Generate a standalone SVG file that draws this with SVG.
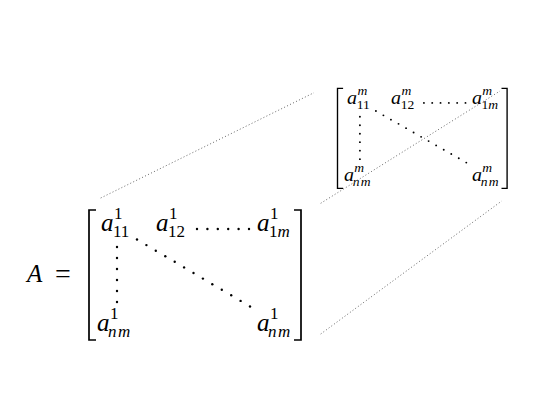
<svg xmlns="http://www.w3.org/2000/svg" width="540" height="413" viewBox="0 0 540 413">
<style>
.v{font-family:"Liberation Serif","DejaVu Serif",serif;font-style:italic;font-size:25px;fill:#000}
.u{font-family:"Liberation Serif","DejaVu Serif",serif;font-size:28px;fill:#000}
.s{font-family:"Liberation Serif","DejaVu Serif",serif;font-size:17px;fill:#000}
.si{font-family:"Liberation Serif","DejaVu Serif",serif;font-size:17px;font-style:italic;fill:#000;letter-spacing:1.5px}
.br{fill:none;stroke:#000;stroke-width:1.7}
.dot{fill:#000}
.conn{fill:none;stroke:#666;stroke-width:1;stroke-dasharray:1 2.3}
</style>
<defs>
<circle id="d" r="1.2" class="dot"/>
<g id="dots">
<use href="#d" x="197" y="229"/><use href="#d" x="207.4" y="229"/><use href="#d" x="217.8" y="229"/><use href="#d" x="228.2" y="229"/><use href="#d" x="238.6" y="229"/><use href="#d" x="249" y="229"/>
<use href="#d" x="117" y="247"/><use href="#d" x="117" y="258"/><use href="#d" x="117" y="269"/><use href="#d" x="117" y="280"/><use href="#d" x="117" y="291"/><use href="#d" x="117" y="302"/>
<use href="#d" x="137" y="239.5"/><use href="#d" x="146.4" y="245.1"/><use href="#d" x="155.8" y="250.7"/><use href="#d" x="165.3" y="256.2"/><use href="#d" x="174.7" y="261.8"/><use href="#d" x="184.1" y="267.4"/><use href="#d" x="193.5" y="273"/><use href="#d" x="202.9" y="278.6"/><use href="#d" x="212.3" y="284.2"/><use href="#d" x="221.8" y="289.8"/><use href="#d" x="231.2" y="295.3"/><use href="#d" x="240.6" y="300.9"/><use href="#d" x="250" y="306.5"/>
<path class="br" d="M96,210 H89 V340 H96"/>
<path class="br" d="M294,210 H301 V340 H294"/>
</g>
</defs>

<g id="label-A">
<text class="v" x="27" y="282" font-size="28">A</text>
<text class="u" x="55" y="283">=</text>
</g>

<g id="matrix-1">
<use href="#dots"/>
<text class="v" x="101" y="231">a</text><text class="s" x="114" y="219">1</text><text class="s" x="113" y="237">11</text>
<text class="v" x="156" y="231">a</text><text class="s" x="169" y="219">1</text><text class="s" x="168" y="237">12</text>
<text class="v" x="257" y="231">a</text><text class="s" x="270" y="219">1</text><text class="s" x="269" y="237">1<tspan font-style="italic" letter-spacing="1px">m</tspan></text>
<text class="v" x="97" y="331">a</text><text class="s" x="110" y="319">1</text><text class="si" x="108" y="337">nm</text>
<text class="v" x="257" y="331">a</text><text class="s" x="270" y="319">1</text><text class="si" x="268" y="337">nm</text>
</g>

<g id="matrix-m" transform="matrix(0.8 0 0 0.77 266.3 -73.4)">
<use href="#dots"/>
<text class="v" x="101" y="231">a</text><text class="si" x="114" y="219">m</text><text class="s" x="113" y="237">11</text>
<text class="v" x="156" y="231">a</text><text class="si" x="169" y="219">m</text><text class="s" x="168" y="237">12</text>
<text class="v" x="257" y="231">a</text><text class="si" x="270" y="219">m</text><text class="s" x="269" y="237">1<tspan font-style="italic" letter-spacing="1px">m</tspan></text>
<text class="v" x="97" y="331">a</text><text class="si" x="110" y="319">m</text><text class="si" x="108" y="337">nm</text>
<text class="v" x="257" y="331">a</text><text class="si" x="270" y="319">m</text><text class="si" x="268" y="337">nm</text>
</g>

<g id="connectors">
<line class="conn" x1="100.7" y1="198" x2="314" y2="92.7"/>
<line class="conn" x1="320.7" y1="203.3" x2="500" y2="91"/>
<line class="conn" x1="320.7" y1="334" x2="501.7" y2="201"/>
</g>
</svg>
